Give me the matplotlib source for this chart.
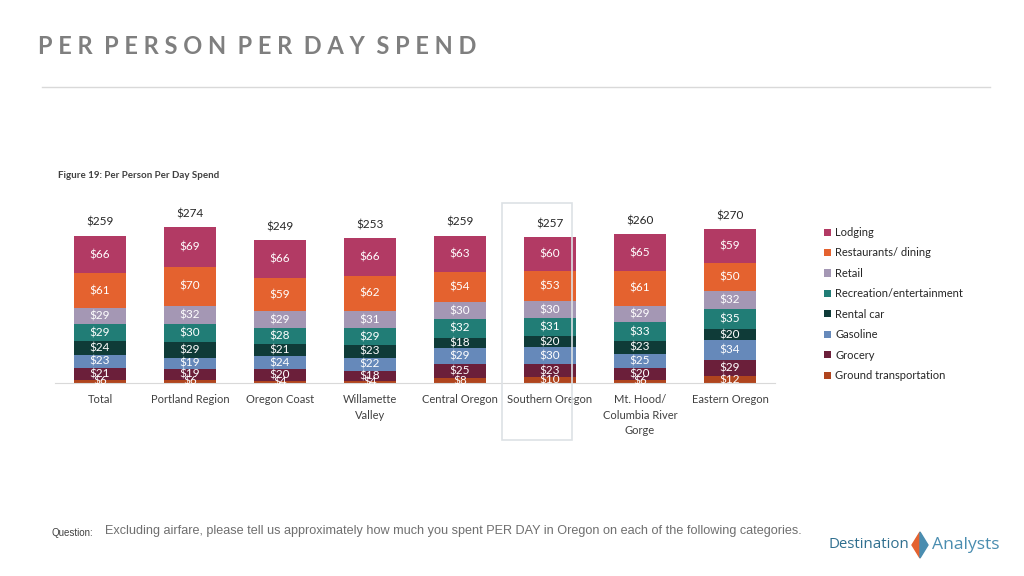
import numpy as np
import matplotlib
matplotlib.use('Agg')
import matplotlib.pyplot as plt
from matplotlib.patches import Rectangle, Polygon
from matplotlib.lines import Line2D

plt.rcParams['font.family'] = ['Lato', 'DejaVu Sans']

regions = ['Total', 'Portland Region', 'Oregon Coast', 'Willamette\nValley', 'Central Oregon',
           'Southern Oregon', 'Mt. Hood/\nColumbia River\nGorge', 'Eastern Oregon']
# stacked bottom -> top
series = ['Ground transportation', 'Grocery', 'Gasoline', 'Rental car',
          'Recreation/entertainment', 'Retail', 'Restaurants/ dining', 'Lodging']
ground = [6, 6, 4, 4, 8, 10, 6, 12]
grocery = [21, 19, 20, 18, 25, 23, 20, 29]
gasoline = [23, 19, 24, 22, 29, 30, 25, 34]
rental = [24, 29, 21, 23, 18, 20, 23, 20]
recreation = [29, 30, 28, 29, 32, 31, 33, 35]
retail = [29, 32, 29, 31, 30, 30, 29, 32]
restaurants = [61, 70, 59, 62, 54, 53, 61, 50]
lodging = [66, 69, 66, 66, 63, 60, 65, 59]
totals = [259, 274, 249, 253, 259, 257, 260, 270]

colors = ['#B0451E', '#6B1F3A', '#6689BA', '#0F3B38', '#217D76', '#A497B4', '#E4622F', '#B23A64']
values = [ground, grocery, gasoline, rental, recreation, retail, restaurants, lodging]

fig = plt.figure(figsize=(10.24, 5.76), dpi=100)
W, H = 1024, 576

# title
fig.text(38 / W, 1 - 47 / H, 'P E R  P E R S O N  P E R  D A Y  S P E N D', fontsize=17,
         fontweight='bold', color='#7F7F7F', va='center', ha='left')
fig.add_artist(Line2D([42 / W, 990 / W], [1 - 87 / H, 1 - 87 / H], color='#D9D9D9', lw=1))
fig.text(58 / W, 1 - 176 / H, 'Figure 19: Per Person Per Day Spend', fontsize=7,
         fontweight='bold', color='#404040', va='center')

# highlight box for Southern Oregon
fig.add_artist(Rectangle((502 / W, 1 - 440 / H), 70 / W, 237 / H, fill=False,
                         ec='#DDE1E5', lw=1.2))

scale = 0.568
ax = fig.add_axes([55 / W, (H - 383) / H, 720 / W, 300 * scale / H])
x = np.arange(len(regions))
bottom = np.zeros(len(regions))
for name, vals, c in zip(series, values, colors):
    vals = np.array(vals)
    ax.bar(x, vals, 0.57, bottom=bottom, color=c, label=name, zorder=2)
    for xi, b, v in zip(x, bottom, vals):
        ax.text(xi, b + v / 2, '$%d' % v, ha='center', va='center', color='white',
                fontsize=8.5, zorder=3)
    bottom += vals
for xi, b, t in zip(x, bottom, totals):
    ax.text(xi, b + 14, '$%d' % t, ha='center', va='bottom', color='#262626', fontsize=8.5)

ax.set_xlim(-0.5, 7.5)
ax.set_ylim(0, 300)
for s in ['top', 'right', 'left']:
    ax.spines[s].set_visible(False)
ax.spines['bottom'].set_color('#D9D9D9')
ax.set_yticks([])
ax.set_xticks(x)
ax.set_xticklabels(regions, fontsize=8, color='#404040', linespacing=1.5)
ax.tick_params(axis='x', length=0, pad=8)

handles, labels = ax.get_legend_handles_labels()
leg = fig.legend(handles[::-1], labels[::-1], loc='upper left', bbox_to_anchor=(814 / W, 1 - 217 / H),
                 frameon=False, fontsize=8, handlelength=0.6, handleheight=0.6,
                 handletextpad=0.4, labelspacing=0.85)
for t in leg.get_texts():
    t.set_color('#262626')

# footer
fig.text(52 / W, 1 - 533 / H, 'Question:', fontsize=7, color='#404040', va='center',
         family=['Liberation Sans', 'DejaVu Sans'])
fig.text(105 / W, 1 - 531 / H,
         'Excluding airfare, please tell us approximately how much you spent PER DAY in Oregon on each of the following categories.',
         fontsize=9.1, color='#6F6F6F', va='center', family=['Liberation Sans', 'DejaVu Sans'])

# logo
fig.text(828 / W, 1 - 545 / H, 'Destination', fontsize=10.8, color='#2F6F8F', va='center',
         family=['Open Sans', 'DejaVu Sans'])
fig.text(932 / W, 1 - 545 / H, 'Analysts', fontsize=12.6, color='#4A8DB0', va='center',
         family=['Open Sans', 'DejaVu Sans'])
cx, cy = 920, 545
fig.add_artist(Polygon([((cx - 8) / W, 1 - cy / H), (cx / W, 1 - (cy - 13) / H),
                        (cx / W, 1 - (cy + 13) / H)], closed=True, color='#E4622F'))
fig.add_artist(Polygon([((cx + 8) / W, 1 - cy / H), (cx / W, 1 - (cy - 13) / H),
                        (cx / W, 1 - (cy + 13) / H)], closed=True, color='#4A8DB0'))

fig.savefig('out.png', dpi=100)
